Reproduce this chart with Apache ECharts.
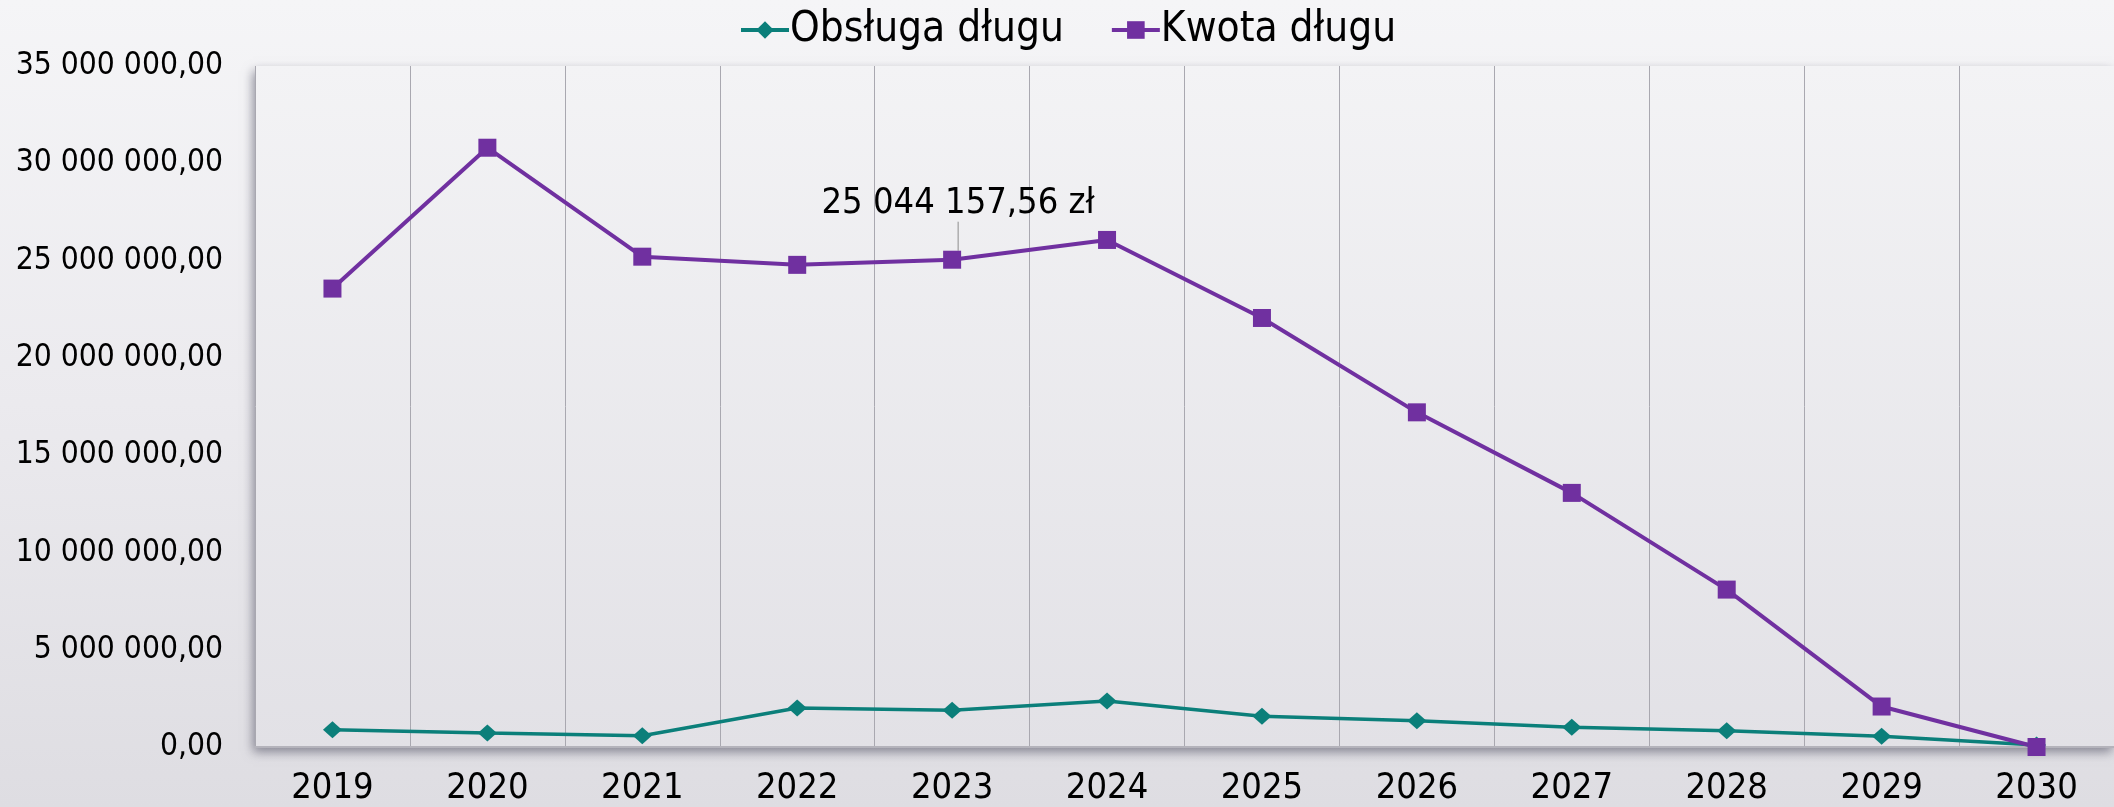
<!DOCTYPE html>
<html>
<head>
<meta charset="utf-8">
<script src="https://cdn.jsdelivr.net/npm/echarts@6/dist/echarts.min.js"></script>
<style>
html,body{margin:0;padding:0;width:2114px;height:807px;overflow:hidden;
background:linear-gradient(to bottom,#f5f5f7 0%,#ebeaee 50%,#dedde2 100%);}
#c{width:2114px;height:807px;}
</style>
</head>
<body>
<div id="c"></div>
<script>
const categories = ['2019','2020','2021','2022','2023','2024','2025','2026','2027','2028','2029','2030'];
const obslugaDlugu = [890000, 720000, 580000, 2000000, 1890000, 2360000, 1580000, 1350000, 1010000, 840000, 550000, 100000];
const kwotaDlugu = [23560000, 30800000, 25200000, 24780000, 25044157.56, 26060000, 22050000, 17200000, 13060000, 8090000, 2080000, 0];
const seriesNames = ['Obsługa długu', 'Kwota długu'];
const annotatedIndex = 4;
const annotationText = '25 044 157,56 zł';
const yMin = 0, yMax = 35000000, yInterval = 5000000;

const FONT = "'DejaVu Sans Condensed', 'DejaVu Sans', sans-serif";
function fmtNum(v){
  return Math.round(v).toString().replace(/\B(?=(\d{3})+(?!\d))/g, ' ') + ',00';
}
const kwotaData = kwotaDlugu.map((v, i) => {
  if (i !== annotatedIndex) return v;
  return {
    value: v,
    label: {
      show: true, position: 'top', distance: 5,
      formatter: () => annotationText,
      fontSize: 36, color: '#000', fontFamily: FONT
    },
    labelLine: { show: true, lineStyle: { color: '#8c8c8c', width: 1 } }
  };
});

const chart = echarts.init(document.getElementById('c'), null, {renderer: 'canvas'});
chart.setOption({
  backgroundColor: 'transparent',
  animation: false,
  textStyle: { fontFamily: FONT },
  legend: {
    top: 4, left: 734, padding: 5,
    itemWidth: 48, itemHeight: 22, itemGap: 46,
    lineStyle: { width: 4 },
    textStyle: { fontSize: 42, color: '#000', fontFamily: FONT, padding: [0,0,0,-4] },
    data: seriesNames
  },
  grid: {
    left: 255, right: 0, top: 66, bottom: 59,
    show: true, borderWidth: 0,
    backgroundColor: { type: 'linear', x: 0, y: 0, x2: 0, y2: 1,
      colorStops: [{offset: 0, color: '#f3f3f5'}, {offset: 1, color: '#e2e1e6'}] },
    shadowColor: 'rgba(60,60,80,0.55)', shadowBlur: 10, shadowOffsetX: -2, shadowOffsetY: 5
  },
  xAxis: {
    type: 'category', data: categories, boundaryGap: true,
    axisLine: { show: true, lineStyle: { color: '#b4b3bb', width: 2 } },
    axisTick: { show: false },
    axisLabel: { fontSize: 36, color: '#000', margin: 24, fontFamily: FONT },
    splitLine: { show: true, lineStyle: { color: '#a9a8b0', width: 1 } }
  },
  yAxis: {
    type: 'value', min: yMin, max: yMax, interval: yInterval,
    axisLine: { show: false }, axisTick: { show: false },
    splitLine: { show: false },
    axisLabel: { fontSize: 31.5, color: '#000', margin: 32, fontFamily: FONT, formatter: fmtNum }
  },
  series: [
    {
      name: seriesNames[0], type: 'line', data: obslugaDlugu,
      symbol: 'diamond', symbolSize: [19, 17],
      itemStyle: { color: '#0b7f7a' },
      lineStyle: { color: '#0b7f7a', width: 3.5 }
    },
    {
      name: seriesNames[1], type: 'line', data: kwotaData,
      symbol: 'rect', symbolSize: [18, 18],
      itemStyle: { color: '#7030a0' },
      lineStyle: { color: '#7030a0', width: 4 },
      labelLayout: { dx: 6, dy: -24 }
    }
  ]
});
</script>
</body>
</html>
